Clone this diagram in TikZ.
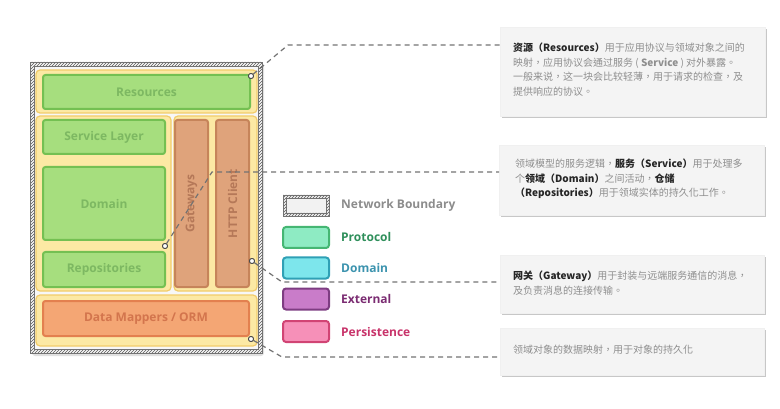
\documentclass[tikz,border=0pt]{standalone}
\usepackage{fontspec}
\setmainfont{Open Sans}
\newfontfamily\cjk{Noto Sans CJK TC}
\usetikzlibrary{patterns,shadows}
\definecolor{yelF}{HTML}{FCE9A4}
\definecolor{yelD}{HTML}{F2CC6A}
\definecolor{grnF}{HTML}{A6DE7E}
\definecolor{grnD}{HTML}{74C052}
\definecolor{grnT}{HTML}{7DB862}
\definecolor{gwF}{HTML}{DFA37B}
\definecolor{gwD}{HTML}{C6845A}
\definecolor{gwT}{HTML}{B57858}
\definecolor{dmF}{HTML}{F4A674}
\definecolor{dmD}{HTML}{E3804F}
\definecolor{dmT}{HTML}{D3754D}
\definecolor{prF}{HTML}{8EEBC3}
\definecolor{prD}{HTML}{45B673}
\definecolor{prT}{HTML}{2F8F5B}
\definecolor{doF}{HTML}{7DE6EC}
\definecolor{doD}{HTML}{2FA0B5}
\definecolor{doT}{HTML}{3C93AE}
\definecolor{exF}{HTML}{C97CC9}
\definecolor{exD}{HTML}{7E3D82}
\definecolor{exT}{HTML}{7B2C72}
\definecolor{peF}{HTML}{F690B8}
\definecolor{peD}{HTML}{D14474}
\definecolor{peT}{HTML}{C8336A}
\definecolor{nbT}{HTML}{8C8C8C}
\definecolor{txG}{HTML}{8E8E8E}
\definecolor{infoF}{HTML}{F4F4F4}
\newcommand{\bk}[1]{{\bfseries\color{black!85}#1}}
\begin{document}
\begin{tikzpicture}[x=1pt,y=-1pt,
  yel/.style={draw=yelD, fill=yelF, line width=1.2, rounded corners=4, inner sep=0},
  grn/.style={draw=grnD, fill=grnF, line width=2, rounded corners=2.5, inner sep=0, text=grnT, font=\bfseries\fontsize{12}{14}\selectfont},
  gw/.style={draw=gwD, fill=gwF, line width=2, rounded corners=2.5, inner sep=0, text=gwT, font=\bfseries\fontsize{12}{14}\selectfont},
  dm/.style={draw=dmD, fill=dmF, line width=2, rounded corners=2.5, inner sep=0, text=dmT, font=\bfseries\fontsize{12}{14}\selectfont},
  dot/.style={circle, draw=black!75, fill=white, line width=0.8, inner sep=0, minimum size=5},
  conn/.style={draw=black!55, line width=1.2, dash pattern=on 5pt off 4pt},
  infobox/.style={fill=infoF, draw=black!6, inner sep=0, anchor=north west,
     drop shadow={shadow xshift=1.5pt, shadow yshift=-2pt, fill=black, opacity=0.22}},
  txt/.style={font=\cjk\fontsize{10}{14.7}\selectfont, text=txG, align=left, inner sep=0, anchor=north west},
  lgbox/.style={line width=2, rounded corners=3, minimum width=46, minimum height=21, inner sep=0},
  lgtxt/.style={anchor=west, inner sep=0, font=\bfseries\fontsize{12}{14}\selectfont}
]
\useasboundingbox (0,0) rectangle (780,409);

% network boundary background
\fill[black!12, rounded corners=3] (32,64) rectangle (264,356);
\node[fill=black!3, inner sep=0, minimum width=232, minimum height=291] (nb) at (146,207.5) {};

% yellow containers
\node[yel, minimum width=221, minimum height=43] (y1) at (146.5,91.5) {};
\node[yel, minimum width=135, minimum height=175] (y2) at (103.5,203.5) {};
\node[yel, minimum width=83, minimum height=175] (y3) at (215.5,203.5) {};
\node[yel, minimum width=221, minimum height=51] (y4) at (146.5,320.5) {};

% boxes
\node[grn, minimum width=207, minimum height=34] (res) at (146.5,92) {Resources};
\node[grn, minimum width=122, minimum height=34] (svc) at (104,137) {Service Layer};
\node[grn, minimum width=122, minimum height=73] (dom) at (104,203.5) {Domain};
\node[grn, minimum width=122, minimum height=35] (rep) at (104,269.5) {Repositories};
\node[gw, minimum width=33, minimum height=167] (gtw) at (191.5,203.5) {\rotatebox{90}{Gateways}};
\node[gw, minimum width=33, minimum height=167] (http) at (232.5,203.5) {\rotatebox{90}{HTTP Client}};
\node[dm, minimum width=206, minimum height=35] (dmo) at (146,318.5) {Data Mappers / ORM};

% info boxes
\node[infobox, minimum width=265, minimum height=89] (b1) at (500,27) {};
\node[infobox, minimum width=265, minimum height=70] (b2) at (499,145) {};
\node[infobox, minimum width=264, minimum height=58] (b3) at (500,255) {};
\node[infobox, minimum width=264, minimum height=47] (b4) at (500,328) {};

\node[txt] (t1) at (513,42.5) {\bk{资源（Resources）}用于应用协议与领域对象之间的\\映射，应用协议会通过服务 ( \textbf{Service} ) 对外暴露。\\一般来说，这一块会比较轻薄，用于请求的检查，及\\提供响应的协议。};
\node[txt] (t2) at (515,158.5) {领域模型的服务逻辑，\bk{服务（Service）}用于处理多\\个\bk{领域（Domain）}之间活动，\bk{仓储}\\\bk{（Repositories）}用于领域实体的持久化工作。};
\node[txt] (t3) at (513,270.5) {\bk{网关（Gateway）}用于封装与远端服务通信的消息，\\及负责消息的连接传输。};
\node[txt] (t4) at (513,344.5) {领域对象的数据映射，用于对象的持久化};

% connector anchors
\node[dot] (c1) at (251,76) {};
\node[dot] (c2) at (165,246) {};
\node[dot] (c3) at (252,261) {};
\node[dot] (c4) at (251,339) {};
\coordinate (k1) at (288,45);
\coordinate (k2) at (212,172);
\coordinate (k3) at (282,282);
\coordinate (k4) at (282,357);
\draw[conn] (c1) -- (k1) -- (k1 -| b1.west);
\draw[conn] (c2) -- (k2) -- (k2 -| b2.west);
\draw[conn] (c3) -- (k3) -- (k3 -| b3.west);
\draw[conn] (c4) -- (k4) -- (k4 -| b4.west);

% hatched boundary band
\fill[pattern=north east lines, pattern color=black!65, even odd rule]
  (30,62) rectangle (262,353) (34,66) rectangle (258,349);
\draw[black!55, line width=0.6] (30,62) rectangle (262,353) (34,66) rectangle (258,349);
\node[dot] at (c1) {};
\node[dot] at (c2) {};
\node[dot] at (c3) {};
\node[dot] at (c4) {};

% legend
\node[lgbox, fill=black!5, rounded corners=2] (lg1) at (306,205.5) {};
\fill[pattern=north east lines, pattern color=black!65, even odd rule]
  (283,195) rectangle (329,216) (286,198) rectangle (326,213);
\draw[black!55, line width=0.5] (283,195) rectangle (329,216) (286,198) rectangle (326,213);
\node[lgbox, fill=prF, draw=prD] (lg2) at (306,237.5) {};
\node[lgbox, fill=doF, draw=doD] (lg3) at (306,268) {};
\node[lgbox, fill=exF, draw=exD] (lg4) at (306,299) {};
\node[lgbox, fill=peF, draw=peD] (lg5) at (306,331.5) {};
\node[lgtxt, text=nbT] (l1) at (341,205.5) {Network Boundary};
\node[lgtxt, text=prT] (l2) at (341,237.5) {Protocol};
\node[lgtxt, text=doT] (l3) at (341,268) {Domain};
\node[lgtxt, text=exT] (l4) at (341,299) {External};
\node[lgtxt, text=peT] (l5) at (341,331.5) {Persistence};
\end{tikzpicture}
\end{document}
